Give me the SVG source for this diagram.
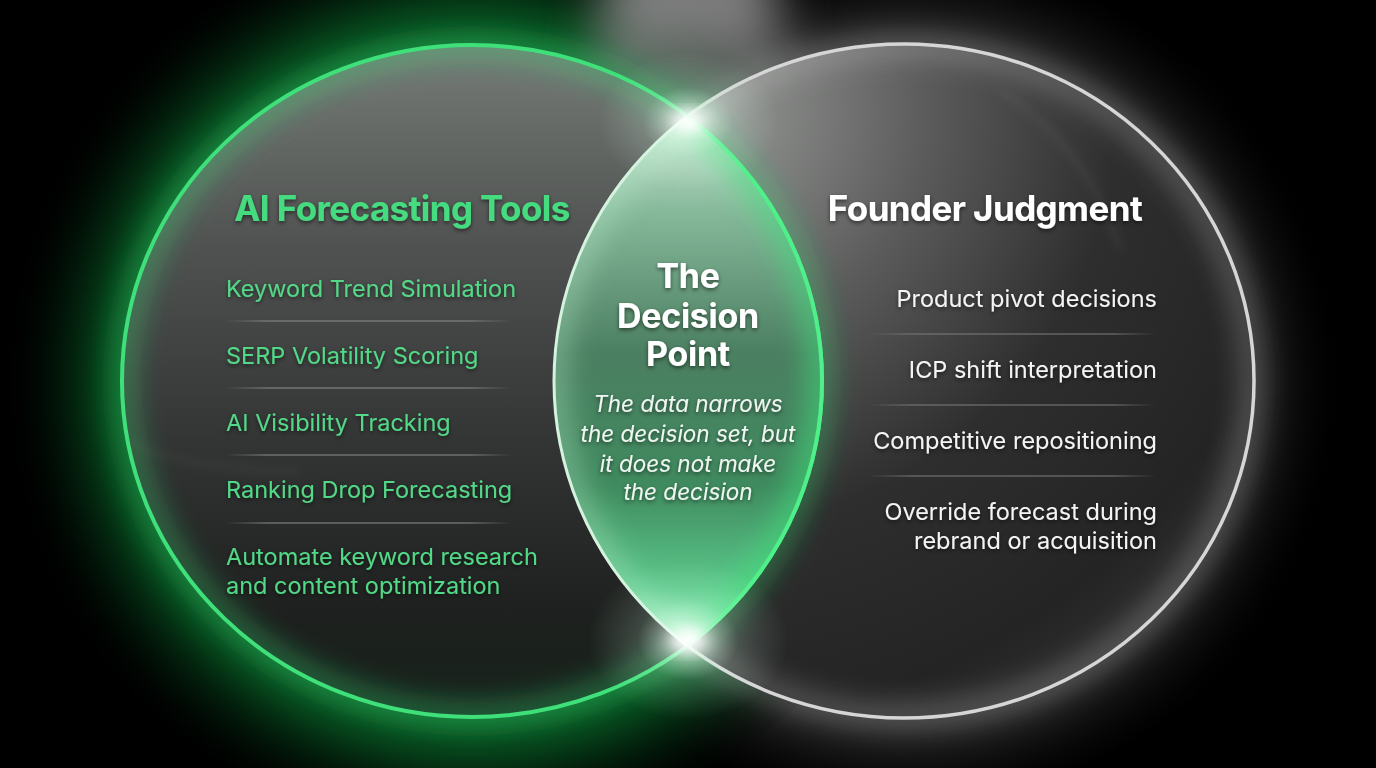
<svg xmlns="http://www.w3.org/2000/svg" width="1376" height="768" viewBox="0 0 1376 768">
<defs>
  <style>
    .t{font-family:Inter,"Noto Sans","Liberation Sans",sans-serif}
    .h{font-size:35px;font-weight:700;letter-spacing:-0.6px}
    .li{font-size:23.5px;fill:#52d887}
    .ri{font-size:23.5px;fill:#f4f4f4;text-anchor:end}
    .ct{font-size:34px;font-weight:700;fill:#ffffff;text-anchor:middle;letter-spacing:-0.3px}
    .ci{font-size:22.5px;font-style:italic;fill:#f0f6f2;text-anchor:middle}
    .sepL{stroke:url(#sepGradL);stroke-width:1.5}
    .sepR{stroke:url(#sepGradR);stroke-width:1.5}
  </style>
  <filter id="blur4" x="-50%" y="-50%" width="200%" height="200%"><feGaussianBlur stdDeviation="4"/></filter>
  <filter id="blur8" x="-50%" y="-50%" width="200%" height="200%"><feGaussianBlur stdDeviation="8"/></filter>
  <filter id="blur14" x="-50%" y="-50%" width="200%" height="200%"><feGaussianBlur stdDeviation="14"/></filter>
  <filter id="blur25" x="-50%" y="-50%" width="200%" height="200%"><feGaussianBlur stdDeviation="25"/></filter>
  <filter id="shadow" x="-20%" y="-40%" width="140%" height="180%"><feDropShadow dx="0" dy="2" stdDeviation="2" flood-color="#000" flood-opacity="0.55"/></filter>
  <radialGradient id="bgGreen" cx="472" cy="381" r="470" gradientUnits="userSpaceOnUse">
    <stop offset="0.68" stop-color="#0d6a2c"/>
    <stop offset="0.8" stop-color="#053d18"/>
    <stop offset="1" stop-color="#000" stop-opacity="0"/>
  </radialGradient>
  <radialGradient id="bgGray" cx="904" cy="381" r="440" gradientUnits="userSpaceOnUse">
    <stop offset="0.72" stop-color="#3a3a3a"/>
    <stop offset="0.85" stop-color="#161616"/>
    <stop offset="1" stop-color="#000" stop-opacity="0"/>
  </radialGradient>
  <linearGradient id="beam" x1="0" y1="0" x2="0" y2="1">
    <stop offset="0" stop-color="#9a9a9a"/>
    <stop offset="0.6" stop-color="#7a7a7a" stop-opacity="0.75"/>
    <stop offset="1" stop-color="#707070" stop-opacity="0.2"/>
  </linearGradient>
  <linearGradient id="fillL" x1="0" y1="45" x2="0" y2="717" gradientUnits="userSpaceOnUse">
    <stop offset="0" stop-color="#767b77"/>
    <stop offset="0.3" stop-color="#4f5250"/>
    <stop offset="0.6" stop-color="#323433"/>
    <stop offset="0.85" stop-color="#1d201e"/>
    <stop offset="1" stop-color="#16231b"/>
  </linearGradient>
  <radialGradient id="fillR" cx="700" cy="110" r="760" gradientUnits="userSpaceOnUse">
    <stop offset="0" stop-color="#9a9c9a"/>
    <stop offset="0.3" stop-color="#5a5b5a"/>
    <stop offset="0.55" stop-color="#2e2e2e"/>
    <stop offset="0.8" stop-color="#242424"/>
    <stop offset="1" stop-color="#3a3a3a"/>
  </radialGradient>
  <linearGradient id="fillLens" x1="0" y1="118" x2="0" y2="642" gradientUnits="userSpaceOnUse">
    <stop offset="0" stop-color="#cde9d6"/>
    <stop offset="0.18" stop-color="#86b89a"/>
    <stop offset="0.45" stop-color="#4b7f61"/>
    <stop offset="0.7" stop-color="#3f8a5e"/>
    <stop offset="0.9" stop-color="#5cc98b"/>
    <stop offset="1" stop-color="#a8f5c8"/>
  </linearGradient>
  <radialGradient id="spark" cx="0.5" cy="0.5" r="0.5">
    <stop offset="0" stop-color="#ffffff" stop-opacity="0.9"/>
    <stop offset="0.2" stop-color="#f0fff6" stop-opacity="0.55"/>
    <stop offset="0.5" stop-color="#d8ffe8" stop-opacity="0.18"/>
    <stop offset="1" stop-color="#d8ffe8" stop-opacity="0"/>
  </radialGradient>
  <linearGradient id="sepGradL" x1="225" y1="0" x2="512" y2="0" gradientUnits="userSpaceOnUse">
    <stop offset="0" stop-color="#8a8a8a" stop-opacity="0"/>
    <stop offset="0.15" stop-color="#8a8a8a" stop-opacity="0.7"/>
    <stop offset="0.85" stop-color="#8a8a8a" stop-opacity="0.7"/>
    <stop offset="1" stop-color="#8a8a8a" stop-opacity="0"/>
  </linearGradient>
  <linearGradient id="sepGradR" x1="868" y1="0" x2="1156" y2="0" gradientUnits="userSpaceOnUse">
    <stop offset="0" stop-color="#7a7a7a" stop-opacity="0"/>
    <stop offset="0.15" stop-color="#7a7a7a" stop-opacity="0.7"/>
    <stop offset="0.85" stop-color="#7a7a7a" stop-opacity="0.7"/>
    <stop offset="1" stop-color="#7a7a7a" stop-opacity="0"/>
  </linearGradient>
  <clipPath id="clipR"><ellipse cx="904" cy="381" rx="350" ry="337"/></clipPath>
  <clipPath id="clipL"><ellipse cx="472" cy="381" rx="350" ry="336"/></clipPath>
</defs>

<g id="background">
  <rect width="1376" height="768" fill="#000"/>
  <ellipse cx="904" cy="381" rx="440" ry="420" fill="url(#bgGray)"/>
  <ellipse cx="472" cy="381" rx="470" ry="450" fill="url(#bgGreen)"/>
  <path d="M610,-40 L770,-40 L800,135 L580,135 Z" fill="url(#beam)" filter="url(#blur25)"/>
</g>

<g id="node-founder-judgment">
  <ellipse cx="904" cy="381" rx="350" ry="337" fill="url(#fillR)"/>
  <path d="M1000,90 Q1090,150 1120,250" fill="none" stroke="#ffffff" stroke-opacity="0.05" stroke-width="6" filter="url(#blur4)"/>
  <ellipse cx="904" cy="381" rx="344" ry="331" fill="none" stroke="#bdbdbd" stroke-opacity="0.25" stroke-width="10" filter="url(#blur14)"/>
  <ellipse cx="904" cy="381" rx="350" ry="337" fill="none" stroke="#ffffff" stroke-opacity="0.35" stroke-width="10" filter="url(#blur14)"/>
  <ellipse cx="904" cy="381" rx="350" ry="337" fill="none" stroke="#d6d6d6" stroke-width="3.5"/>
  <g filter="url(#shadow)">
    <text x="985" y="221" class="t h" fill="#ffffff" text-anchor="middle">Founder Judgment</text>
    <text x="1157" y="307" class="t ri">Product pivot decisions</text>
    <text x="1157" y="378" class="t ri">ICP shift interpretation</text>
    <text x="1157" y="449" class="t ri">Competitive repositioning</text>
    <text x="1157" y="520" class="t ri">Override forecast during</text>
    <text x="1157" y="549" class="t ri">rebrand or acquisition</text>
  </g>
  <line x1="868" y1="334" x2="1156" y2="334" class="sepR"/>
  <line x1="868" y1="405" x2="1156" y2="405" class="sepR"/>
  <line x1="868" y1="476" x2="1156" y2="476" class="sepR"/>
</g>

<g id="node-ai-forecasting-tools">
  <ellipse cx="472" cy="381" rx="350" ry="336" fill="url(#fillL)"/>
  <path d="M128,440 Q170,468 300,472" fill="none" stroke="#ffffff" stroke-opacity="0.05" stroke-width="5" filter="url(#blur4)"/>
  <ellipse cx="472" cy="381" rx="350" ry="336" fill="none" stroke="#2be06a" stroke-opacity="0.55" stroke-width="14" filter="url(#blur14)"/>
  <ellipse cx="472" cy="381" rx="344" ry="330" fill="none" stroke="#6fdc96" stroke-opacity="0.2" stroke-width="10" filter="url(#blur14)"/>
  <ellipse cx="472" cy="381" rx="350" ry="336" fill="none" stroke="#3fe07a" stroke-width="4"/>
  <g filter="url(#shadow)">
    <text x="402" y="221" class="t h" fill="#45dc7f" text-anchor="middle">AI Forecasting Tools</text>
    <text x="226" y="297" class="t li">Keyword Trend Simulation</text>
    <text x="226" y="364" class="t li">SERP Volatility Scoring</text>
    <text x="226" y="431" class="t li">AI Visibility Tracking</text>
    <text x="226" y="498" class="t li">Ranking Drop Forecasting</text>
    <text x="226" y="565" class="t li">Automate keyword research</text>
    <text x="226" y="594" class="t li">and content optimization</text>
  </g>
  <line x1="225" y1="321" x2="512" y2="321" class="sepL"/>
  <line x1="225" y1="388" x2="512" y2="388" class="sepL"/>
  <line x1="225" y1="455" x2="512" y2="455" class="sepL"/>
  <line x1="225" y1="523" x2="512" y2="523" class="sepL"/>
</g>

<g id="node-decision-point">
  <g clip-path="url(#clipR)">
    <ellipse cx="472" cy="381" rx="350" ry="336" fill="url(#fillLens)" clip-path="url(#clipL)"/>
    <g clip-path="url(#clipL)">
      <ellipse cx="904" cy="381" rx="350" ry="337" fill="none" stroke="#b8f0cc" stroke-opacity="0.5" stroke-width="20" filter="url(#blur14)"/>
      <ellipse cx="472" cy="381" rx="350" ry="336" fill="none" stroke="#3fe07a" stroke-opacity="0.7" stroke-width="24" filter="url(#blur14)"/>
    </g>
  </g>
  <ellipse cx="904" cy="381" rx="350" ry="337" fill="none" stroke="#d4f2de" stroke-width="3" clip-path="url(#clipL)"/>
  <ellipse cx="472" cy="381" rx="350" ry="336" fill="none" stroke="#4ff08a" stroke-width="4" clip-path="url(#clipR)"/>
  <ellipse cx="688" cy="122" rx="90" ry="70" fill="url(#spark)"/>
  <ellipse cx="688" cy="640" rx="100" ry="80" fill="url(#spark)"/>
  <ellipse cx="688" cy="121" rx="16" ry="9" fill="#ffffff" filter="url(#blur8)"/>
  <ellipse cx="688" cy="641" rx="18" ry="10" fill="#ffffff" filter="url(#blur8)"/>
  <g filter="url(#shadow)">
    <text x="688" y="288" class="t ct">The</text>
    <text x="688" y="328" class="t ct">Decision</text>
    <text x="688" y="366" class="t ct">Point</text>
    <text x="688" y="412" class="t ci">The data narrows</text>
    <text x="688" y="442" class="t ci">the decision set, but</text>
    <text x="688" y="472" class="t ci">it does not make</text>
    <text x="688" y="500" class="t ci">the decision</text>
  </g>
</g>

<g id="connectors"/>
</svg>
